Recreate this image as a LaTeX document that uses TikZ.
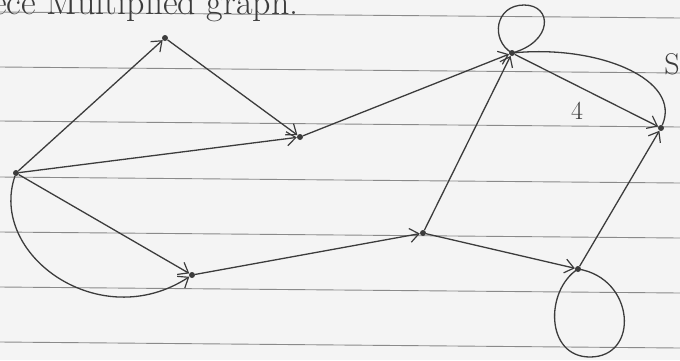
\documentclass[tikz,border=0pt]{standalone}
\usetikzlibrary{arrows.meta}
\definecolor{pencil}{HTML}{3C3C3C}
\definecolor{paper}{HTML}{F4F4F4}
\definecolor{ruled}{HTML}{8A8A8A}
\begin{document}
\begin{tikzpicture}[x=1pt,y=-1pt,
  vtx/.style={circle,fill=pencil,inner sep=0pt,minimum size=6pt},
  edge/.style={draw=pencil,line width=1.3pt},
  arr/.style={edge,-{Straight Barb[length=9pt,width=14pt,line width=1.2pt]}},
  hand/.style={text=pencil,inner sep=0pt}]
\useasboundingbox (0,0) rectangle (680,360);
\fill[paper] (0,0) rectangle (680,360);
\foreach \y in {12,67,121,177,232,287,342}
  \draw[ruled,line width=0.9pt] (0,\y) -- (680,\y+6);
\begin{scope}
\clip (0,0) rectangle (680,360);
\node[hand,anchor=base west,font=\fontsize{36}{36}\selectfont] (title) at (-8,14) {ece Multiplied graph.};
\node[hand,font=\fontsize{30}{30}\selectfont] (s) at (672,64) {S};
\end{scope}
% vertices
\node[vtx] (A) at (16,173) {};
\node[vtx] (B) at (165,38) {};
\node[vtx] (C) at (300,137) {};
\node[vtx] (D) at (512,53) {};
\node[vtx] (E) at (661,128) {};
\node[vtx] (F) at (423,233) {};
\node[vtx] (G) at (578,269) {};
\node[vtx] (H) at (192,275) {};
% edges
\draw[arr] (A) -- (B);
\draw[arr] (B) -- (C);
\draw[arr] (A) -- (C);
\draw[arr] (C) -- (D);
\draw[arr] (A) -- (H);
\draw[arr] (A) .. controls (-12,255) and (100,335) .. (H);
\draw[arr] (H) -- (F);
\draw[arr] (F) -- (D);
\draw[arr] (F) -- (G);
\draw[arr] (D) -- (E);
\draw[arr] (G) -- (E);
\draw[edge] (D) .. controls (600,45) and (682,80) .. (E);
% loops
\draw[edge] (D.center) .. controls (490,40) and (495,5) .. (524,5)
  .. controls (553,5) and (553,42) .. (D.center);
\draw[edge] (G.center) .. controls (545,290) and (545,357) .. (590,357)
  .. controls (640,357) and (635,278) .. (G.center);
% label
\node[hand,font=\fontsize{26}{26}\selectfont] (w) at (577,111) {4};
\end{tikzpicture}
\end{document}
